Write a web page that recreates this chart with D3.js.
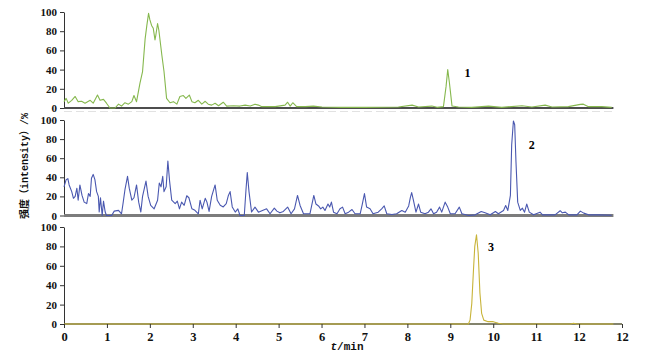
<!DOCTYPE html>
<html>
<head>
<meta charset="utf-8">
<script src="https://cdn.jsdelivr.net/npm/d3@7"></script>
<style>
  body { margin: 0; background: #fff; }
  svg { display: block; }
</style>
</head>
<body>
<script>
// chromatogram traces: [t/min, intensity %]
var trace1 = [[0,6.6],[0.05,10],[0.1,5],[0.18,8],[0.26,12],[0.33,6.6],[0.41,7],[0.49,5],[0.61,8],[0.68,5],
  [0.78,13.5],[0.84,8],[0.92,9],[0.99,5],[1.07,0],[1.19,0],[1.27,4],[1.34,2],[1.42,5.5],[1.5,4],[1.58,6.6],
  [1.63,13],[1.69,6.6],[1.77,26],[1.83,38],[1.89,72],[1.93,86],[1.97,98.6],[2,92],[2.04,86],[2.08,83],
  [2.12,71],[2.14,76],[2.18,88],[2.21,81],[2.28,55],[2.33,38],[2.39,10],[2.47,5.5],[2.55,6.6],[2.63,4],
  [2.7,12],[2.78,13],[2.84,10],[2.92,13.5],[2.98,6.6],[3.05,5.5],[3.13,8],[3.21,4],[3.29,7],[3.36,4],
  [3.44,3],[3.52,5],[3.6,2.4],[3.71,6],[3.79,2],[3.95,2.4],[4.1,2],[4.22,3],[4.34,2],[4.45,4],[4.53,3],
  [4.61,1.4],[4.92,1.4],[5.15,3],[5.21,6],[5.27,2],[5.33,5.5],[5.42,1.4],[5.62,1.4],[5.81,2],[6.01,1],
  [6.47,0.7],[7.01,0.7],[7.79,1],[8.11,3],[8.26,1],[8.57,2],[8.69,0.7],[8.84,1.4],[8.9,22],[8.94,40],
  [8.98,26],[9.04,2],[9.19,1],[9.5,0.7],[9.89,2],[10.2,0.7],[10.67,2.4],[10.9,1],[11.21,3],[11.37,1],
  [11.75,1.4],[12.03,3.8],[12.1,4],[12.22,1.4],[12.53,1.4],[12.76,0.7]];

var trace2 = [[0,30],[0.05,37.5],[0.09,38.6],[0.12,32],[0.18,25],[0.22,18],[0.26,20],[0.3,28.6],[0.33,16],
  [0.37,32],[0.42,21],[0.47,14],[0.53,12.5],[0.57,23],[0.61,20],[0.64,39],[0.68,43],[0.72,37.5],[0.76,25],
  [0.8,20],[0.82,3.6],[0.85,18.6],[0.89,0],[0.92,15],[0.96,3.6],[0.99,0],[1.11,0],[1.17,4.6],[1.27,5.4],
  [1.34,1.8],[1.38,14],[1.42,27],[1.48,41],[1.52,28.6],[1.58,16],[1.63,18.6],[1.69,32],[1.74,14],[1.79,3.6],
  [1.83,20],[1.91,36],[1.96,20],[2.02,10.7],[2.1,7],[2.18,16],[2.22,34],[2.26,30],[2.3,41],[2.33,25],
  [2.38,30],[2.42,57],[2.46,36],[2.51,16],[2.59,12.5],[2.64,15],[2.69,7],[2.74,14],[2.8,10.7],[2.86,20.7],
  [2.91,18.6],[2.98,7],[3.05,5.4],[3.13,1.8],[3.17,16],[3.22,7],[3.29,18],[3.33,14],[3.38,4.3],[3.44,20],
  [3.52,32],[3.57,16],[3.64,10.7],[3.71,9],[3.78,12.5],[3.83,21],[3.87,25],[3.92,9],[3.99,3.6],[4.05,7],
  [4.1,0],[4.2,0],[4.24,27],[4.27,45],[4.31,25],[4.37,3.6],[4.45,8.8],[4.53,3.5],[4.61,5],[4.72,7],
  [4.8,1.8],[4.9,7.7],[4.96,4.6],[5.03,2.8],[5.11,4.2],[5.21,8.8],[5.29,1.8],[5.37,7],[5.44,21],[5.5,10.5],
  [5.58,1.8],[5.73,1.8],[5.82,21],[5.87,12],[5.93,10],[5.98,7],[6.03,8.8],[6.08,5.3],[6.15,12],[6.19,8.8],
  [6.23,14],[6.28,3.5],[6.36,1.8],[6.43,7],[6.49,8.8],[6.55,1.8],[6.63,3.5],[6.71,6.3],[6.78,1.8],[6.9,1.8],
  [6.95,12],[7,23],[7.05,8.8],[7.13,7],[7.2,1.8],[7.32,3.5],[7.4,7],[7.46,10],[7.52,1.8],[7.64,1],
  [7.75,1.8],[7.87,5.3],[7.95,3.5],[8.03,10],[8.07,19],[8.1,24],[8.14,16],[8.2,3.5],[8.26,12],[8.31,3.5],
  [8.41,1.8],[8.49,3.5],[8.55,7],[8.61,1.8],[8.68,3.5],[8.75,8.8],[8.8,3.5],[8.88,14],[8.94,8.8],[9,1.8],
  [9.11,1.8],[9.21,8.8],[9.27,1.8],[9.43,0],[9.58,0.7],[9.72,4.2],[9.81,2.8],[9.93,0.7],[10.05,4.2],
  [10.12,1.8],[10.24,5.3],[10.29,10.5],[10.34,5.3],[10.4,21],[10.43,74],[10.47,99],[10.5,95],[10.53,56],
  [10.57,14],[10.63,5.3],[10.68,7.7],[10.73,3.5],[10.78,12],[10.84,3.5],[10.94,0.7],[11.09,3.5],[11.15,0.7],
  [11.44,0.7],[11.56,5],[11.61,2.8],[11.68,3.5],[11.76,0.7],[11.95,0.7],[12.03,4.6],[12.11,2.5],[12.22,0.7],
  [12.45,0.7],[12.76,0.3]];

var trace3 = [[0,0],[9.42,0],[9.46,4],[9.5,21],[9.54,56],[9.57,80],[9.61,92],[9.65,73],[9.69,32],[9.73,11],
  [9.78,4],[9.88,2.4],[10,2.4],[10.12,0.7],[10.23,0],[11.8,0],[11.87,0.8],[11.95,0],[12.8,0]];

var peakLabels = ["1", "2", "3"];
var peakLabelPos = [[9.4, 32], [10.9, 70], [9.95, 75]];   // [t, intensity] of each label

var yTicks = [0, 20, 40, 60, 80, 100];
var xTicks = [0, 1, 2, 3, 4, 5, 6, 7, 8, 9, 10, 11, 12, 13];
var xTickLabels = ["0", "1", "2", "3", "4", "5", "6", "7", "8", "9", "10", "11", "12", "12"];

var width = 657, height = 355;
var serif = "'Liberation Serif', 'Times New Roman', serif";

var svg = d3.select("body").append("svg")
  .attr("width", width)
  .attr("height", height);

var x = d3.scaleLinear().domain([0, 13]).range([64, 622]);

var panels = [
  {data: trace1, color: "#86b84e", top: 12, bottom: 108, end: 12.8, base: "#4d4d4d", baseW: 2},
  {data: trace2, color: "#4a58b0", top: 120, bottom: 215.5, end: 12.8, base: "#7c7c7c", baseW: 3},
  {data: trace3, color: "#c8b43a", top: 227, bottom: 324, end: 13, base: "#5a5a3c", baseW: 1.5}
];

// faint line above the middle panel
svg.append("line")
  .attr("x1", 64).attr("x2", 613)
  .attr("y1", 111.5).attr("y2", 111.5)
  .attr("stroke", "#e2e2e2")
  .attr("stroke-dasharray", "8,4");

panels.forEach(function(p, i) {
  var y = d3.scaleLinear().domain([0, 100]).range([p.bottom, p.top]);

  // y axis
  var yaxis = d3.axisLeft(y)
    .tickValues(yTicks)
    .tickSize(4)
    .tickSizeOuter(0)
    .tickPadding(3);
  var g = svg.append("g")
    .attr("transform", "translate(" + x(0) + ",0)")
    .call(yaxis);
  g.selectAll("text")
    .style("font-family", serif)
    .style("font-weight", "bold")
    .style("font-size", "11px")
    .attr("fill", "#111");
  g.selectAll("line, path").attr("stroke", "#333");

  // baseline
  svg.append("line")
    .attr("x1", x(0)).attr("x2", x(p.end))
    .attr("y1", p.bottom).attr("y2", p.bottom)
    .attr("stroke", p.base)
    .attr("stroke-width", p.baseW);

  // trace
  var line = d3.line()
    .x(function(d) { return x(d[0]); })
    .y(function(d) { return y(d[1]); });
  svg.append("path")
    .datum(p.data)
    .attr("d", line)
    .attr("fill", "none")
    .attr("stroke", p.color)
    .attr("stroke-width", 1.1)
    .attr("stroke-linejoin", "round");

  // peak number
  svg.append("text")
    .attr("x", x(peakLabelPos[i][0]))
    .attr("y", y(peakLabelPos[i][1]))
    .attr("text-anchor", "middle")
    .style("font-family", serif)
    .style("font-weight", "bold")
    .style("font-size", "12px")
    .text(peakLabels[i]);

  // x axis under the bottom panel
  if (i == 2) {
    var xaxis = d3.axisBottom(x)
      .tickValues(xTicks)
      .tickFormat(function(d, k) { return xTickLabels[k]; })
      .tickSize(4)
      .tickSizeOuter(0)
      .tickPadding(4);
    var gx = svg.append("g")
      .attr("transform", "translate(0," + p.bottom + ")")
      .call(xaxis);
    gx.selectAll("text")
      .style("font-family", serif)
      .style("font-weight", "bold")
      .style("font-size", "12.5px")
      .attr("fill", "#111");
    gx.selectAll("line").attr("stroke", "#333");
    gx.select(".domain").remove();
  }
});

// axis titles
svg.append("text")
  .attr("transform", "translate(28,166) rotate(-90)")
  .attr("text-anchor", "middle")
  .style("font-family", "'Liberation Mono', 'Noto Sans CJK SC', monospace")
  .style("font-weight", "bold")
  .style("font-size", "10px")
  .attr("fill", "#111")
  .text("强度（intensity）/%");

var xt = svg.append("text")
  .attr("x", 347)
  .attr("y", 350)
  .attr("text-anchor", "middle")
  .style("font-family", "'Liberation Mono', monospace")
  .style("font-weight", "bold")
  .style("font-size", "11px")
  .attr("fill", "#111");
xt.append("tspan").style("font-style", "italic").text("t");
xt.append("tspan").text("/min");
</script>
</body>
</html>
